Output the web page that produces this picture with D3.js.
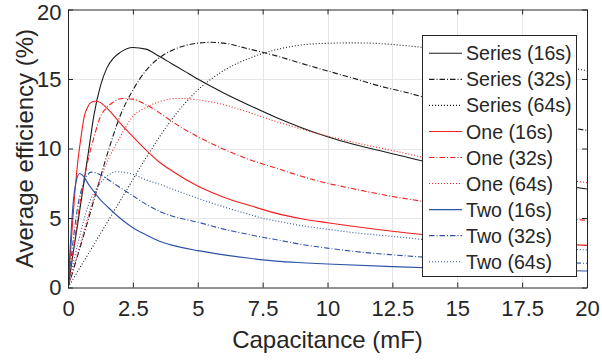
<!DOCTYPE html>
<html>
<head>
<meta charset="utf-8">
<script src="https://cdn.jsdelivr.net/npm/d3@7/dist/d3.min.js"></script>
<style>
  html, body { margin: 0; padding: 0; background: #fff; }
  svg { display: block; }
  text { font-family: "Liberation Sans", Arial, Helvetica, sans-serif; fill: #262626; }
</style>
</head>
<body>
<svg id="chart" width="602" height="360"></svg>
<script>
// ---------- data ----------
const xTicks = [0, 2.5, 5, 7.5, 10, 12.5, 15, 17.5, 20];
const xTickLabels = ["0", "2.5", "5", "7.5", "10", "12.5", "15", "17.5", "20"];
const yTicks = [0, 5, 10, 15, 20];
const yTickLabels = ["0", "5", "10", "15", "20"];

const legendLabels = ["Series (16s)", "Series (32s)", "Series (64s)",
                      "One (16s)", "One (32s)", "One (64s)",
                      "Two (16s)", "Two (32s)", "Two (64s)"];

// Series (16s)
const capS16 = [0, 0.2, 0.4, 0.6, 0.8, 1.0, 1.25, 1.5, 1.75, 2, 2.5, 3, 3.5, 4, 4.5, 5, 6, 7, 8, 9, 10, 11, 12, 13, 14, 15, 16, 17, 18, 19, 20];
const effS16 = [0, 2.5, 4.9, 7.4, 9.9, 12.4, 14.5, 15.8, 16.5, 16.9, 17.27, 17.15, 16.65, 16.1, 15.55, 15.0, 14.0, 13.1, 12.25, 11.5, 10.85, 10.3, 9.85, 9.4, 8.95, 8.55, 8.2, 7.9, 7.6, 7.35, 7.09];
// Series (32s)
const capS32 = [0, 0.5, 1, 1.5, 2, 2.5, 3, 3.5, 4, 4.5, 5, 5.5, 6, 7, 8, 9, 10, 11, 12, 13, 14, 15, 16, 17, 18, 19, 20];
const effS32 = [0, 3.1, 6.3, 9.5, 12.3, 14.2, 15.6, 16.5, 17.05, 17.4, 17.58, 17.64, 17.58, 17.15, 16.68, 16.12, 15.58, 15.05, 14.5, 14.05, 13.55, 13.1, 12.7, 12.3, 11.95, 11.6, 11.3];
// Series (64s)
const capS64 = [0, 1, 2, 3, 4, 5, 6, 7, 8, 9, 10, 11, 12, 13, 14, 15, 16, 17, 18, 19, 20];
const effS64 = [0, 3.1, 6.2, 9.3, 12.1, 14.2, 15.6, 16.5, 17.1, 17.45, 17.57, 17.6, 17.55, 17.4, 17.2, 16.95, 16.7, 16.45, 16.15, 15.9, 15.6];
// One (16s)
const capO16 = [0, 0.125, 0.25, 0.375, 0.5, 0.625, 0.75, 0.875, 1.05, 1.25, 1.5, 2, 2.5, 3, 3.5, 4, 5, 6, 7, 8, 9, 10, 12.5, 15, 17.5, 20];
const effO16 = [0, 3.3, 6.5, 9.0, 10.8, 12.3, 12.95, 13.3, 13.4, 13.3, 12.9, 11.85, 10.85, 9.9, 9.05, 8.4, 7.3, 6.5, 5.9, 5.35, 4.95, 4.66, 4.05, 3.57, 3.26, 3.03];
// One (32s)
const capO32 = [0, 0.25, 0.5, 0.75, 1, 1.25, 1.5, 1.75, 2.1, 2.5, 3, 3.5, 4, 5, 6, 7, 8, 9, 10, 11, 12.5, 14, 15, 17.5, 20];
const effO32 = [0, 3.3, 6.5, 9.0, 10.8, 12.3, 12.95, 13.35, 13.6, 13.55, 13.15, 12.6, 11.95, 10.85, 9.95, 9.2, 8.6, 8.0, 7.5, 7.1, 6.55, 6.1, 5.8, 5.25, 4.83];
// One (64s)
const capO64 = [0, 0.5, 1, 1.5, 2, 2.5, 3, 3.5, 4.2, 5, 6, 7, 8, 9, 10, 11, 12, 13, 14, 15, 16, 17.5, 20];
const effO64 = [0, 3.3, 6.5, 9.0, 10.8, 12.3, 12.95, 13.35, 13.6, 13.5, 13.15, 12.58, 11.95, 11.4, 10.9, 10.45, 10.05, 9.65, 9.25, 8.95, 8.65, 8.2, 7.54];
// Two (16s)
const capT16 = [0, 0.1, 0.2, 0.3, 0.45, 0.6, 0.8, 1, 1.25, 1.5, 2, 2.5, 3, 3.5, 4, 5, 6, 7, 8, 9, 10, 12.5, 15, 17.5, 20];
const effT16 = [0, 3.4, 6.1, 7.5, 8.2, 8.0, 7.4, 6.9, 6.3, 5.85, 5.0, 4.3, 3.8, 3.35, 3.05, 2.65, 2.35, 2.1, 1.9, 1.78, 1.69, 1.5, 1.35, 1.26, 1.19];
// Two (32s)
const capT32 = [0, 0.2, 0.4, 0.6, 0.9, 1.2, 1.6, 2, 2.5, 3, 3.5, 4, 5, 6, 7, 7.5, 8, 9, 10, 11, 12.5, 14, 15, 17.5, 20];
const effT32 = [0, 3.4, 6.1, 7.5, 8.3, 8.15, 7.7, 7.2, 6.6, 6.0, 5.5, 5.15, 4.7, 4.2, 3.8, 3.61, 3.45, 3.1, 2.83, 2.6, 2.35, 2.15, 2.05, 1.88, 1.74];
// Two (64s)
const capT64 = [0, 0.4, 0.8, 1.2, 1.5, 1.87, 2.5, 3, 3.5, 4, 5, 6, 7, 7.5, 8, 9, 10, 11, 12.5, 14, 15, 17.5, 20];
const effT64 = [0, 3.3, 6.0, 7.4, 8.0, 8.33, 8.15, 7.75, 7.45, 7.1, 6.42, 5.8, 5.25, 4.98, 4.8, 4.45, 4.19, 3.95, 3.68, 3.4, 3.25, 2.95, 2.7];

const seriesCaps = [capS16, capS32, capS64, capO16, capO32, capO64, capT16, capT32, capT64];
const seriesEffs = [effS16, effS32, effS64, effO16, effO32, effO64, effT16, effT32, effT64];

// ---------- styles ----------
const black = "#1a1a1a", red = "#f21d1d", blue = "#2d52a8";
const colors = [black, black, black, red, red, red, blue, blue, blue];
const dashSolid = null, dashDashDot = "5.5,2,1,2", dashDot = "1,2";
const dashes = [dashSolid, dashDashDot, dashDot, dashSolid, dashDashDot, dashDot, dashSolid, dashDashDot, dashDot];

// ---------- layout ----------
const svg = d3.select("#chart");
const plotLeft = 68, plotRight = 587, plotTop = 9.5, plotBottom = 287.5;
const x = d3.scaleLinear().domain([0, 20]).range([plotLeft, plotRight]);
const y = d3.scaleLinear().domain([0, 20]).range([plotBottom, plotTop]);
const axisColor = "#262626";

// grid
const grid = svg.append("g");
grid.selectAll(".gx").data(xTicks.slice(1, -1)).enter().append("line")
  .attr("x1", d => Math.round(x(d)) + 0.5).attr("x2", d => Math.round(x(d)) + 0.5)
  .attr("y1", plotTop).attr("y2", plotBottom)
  .attr("stroke", "#e6e6e6").attr("stroke-width", 1);
grid.selectAll(".gy").data(yTicks.slice(1, -1)).enter().append("line")
  .attr("y1", d => Math.round(y(d)) + 0.5).attr("y2", d => Math.round(y(d)) + 0.5)
  .attr("x1", plotLeft).attr("x2", plotRight)
  .attr("stroke", "#e6e6e6").attr("stroke-width", 1);

// curves
svg.append("clipPath").attr("id", "clip").append("rect")
  .attr("x", plotLeft).attr("y", plotTop).attr("width", plotRight - plotLeft).attr("height", plotBottom - plotTop);
const line = d3.line().x(d => x(d[0])).y(d => y(d[1])).curve(d3.curveMonotoneX);
const curves = svg.append("g").attr("clip-path", "url(#clip)");
seriesCaps.forEach((caps, i) => {
  const pts = caps.map((c, j) => [c, seriesEffs[i][j]]);
  const p = curves.append("path").datum(pts)
    .attr("d", line)
    .attr("fill", "none")
    .attr("stroke", colors[i])
    .attr("stroke-width", 1.1);
  if (dashes[i]) p.attr("stroke-dasharray", dashes[i]);
});

// axes (bottom/left with labels, top/right mirrored ticks)
const tickLen = 5;
const xAxisB = d3.axisBottom(x).tickValues(xTicks).tickFormat((d, i) => xTickLabels[i]).tickSizeInner(-tickLen).tickSizeOuter(0).tickPadding(13);
const yAxisL = d3.axisLeft(y).tickValues(yTicks).tickFormat((d, i) => yTickLabels[i]).tickSizeInner(-tickLen).tickSizeOuter(0).tickPadding(6.5);
const xAxisT = d3.axisTop(x).tickValues(xTicks).tickFormat("").tickSizeInner(-tickLen).tickSizeOuter(0);
const yAxisR = d3.axisRight(y).tickValues(yTicks).tickFormat("").tickSizeInner(-tickLen).tickSizeOuter(0);

function styleAxis(g) {
  g.select(".domain").attr("stroke", axisColor).attr("stroke-width", 1);
  g.selectAll(".tick line").attr("stroke", axisColor).attr("stroke-width", 1);
  g.selectAll(".tick text").attr("fill", axisColor)
    .style("font-family", '"Liberation Sans", Arial, sans-serif').style("font-size", "22px");
}
svg.append("g").attr("transform", `translate(0,${plotBottom})`).call(xAxisB).call(styleAxis);
const yAxisG = svg.append("g").attr("transform", `translate(${plotLeft},0)`).call(yAxisL).call(styleAxis);
// the top label sits slightly lower, as in the reference, so it stays inside the figure
yAxisG.selectAll(".tick text").filter(d => d === 20).attr("dy", "0.46em");
svg.append("g").attr("transform", `translate(0,${plotTop})`).call(xAxisT).call(styleAxis);
svg.append("g").attr("transform", `translate(${plotRight},0)`).call(yAxisR).call(styleAxis);

// axis titles
svg.append("text")
  .attr("x", (plotLeft + plotRight) / 2).attr("y", 348)
  .attr("text-anchor", "middle")
  .style("font-size", "24px")
  .text("Capacitance (mF)");
svg.append("text")
  .attr("transform", `translate(33,${(plotTop + plotBottom) / 2}) rotate(-90)`)
  .attr("text-anchor", "middle")
  .style("font-size", "24px")
  .text("Average efficiency (%)");

// legend
const lg = svg.append("g");
const lgX = 422.5, lgY = 35.5, lgW = 154, lgH = 241;
lg.append("rect").attr("x", lgX).attr("y", lgY).attr("width", lgW).attr("height", lgH)
  .attr("fill", "#fff").attr("stroke", axisColor).attr("stroke-width", 1);
const rowY0 = 53.3, rowStep = 26.05;
legendLabels.forEach((lab, i) => {
  const cy = rowY0 + i * rowStep;
  const l = lg.append("line").attr("x1", 429).attr("x2", 462).attr("y1", cy).attr("y2", cy)
    .attr("stroke", colors[i]).attr("stroke-width", 1.1);
  if (dashes[i]) l.attr("stroke-dasharray", dashes[i]);
  lg.append("text").attr("x", 466).attr("y", cy).attr("dy", "0.36em")
    .style("font-size", "19.6px").text(lab);
});
</script>
</body>
</html>
